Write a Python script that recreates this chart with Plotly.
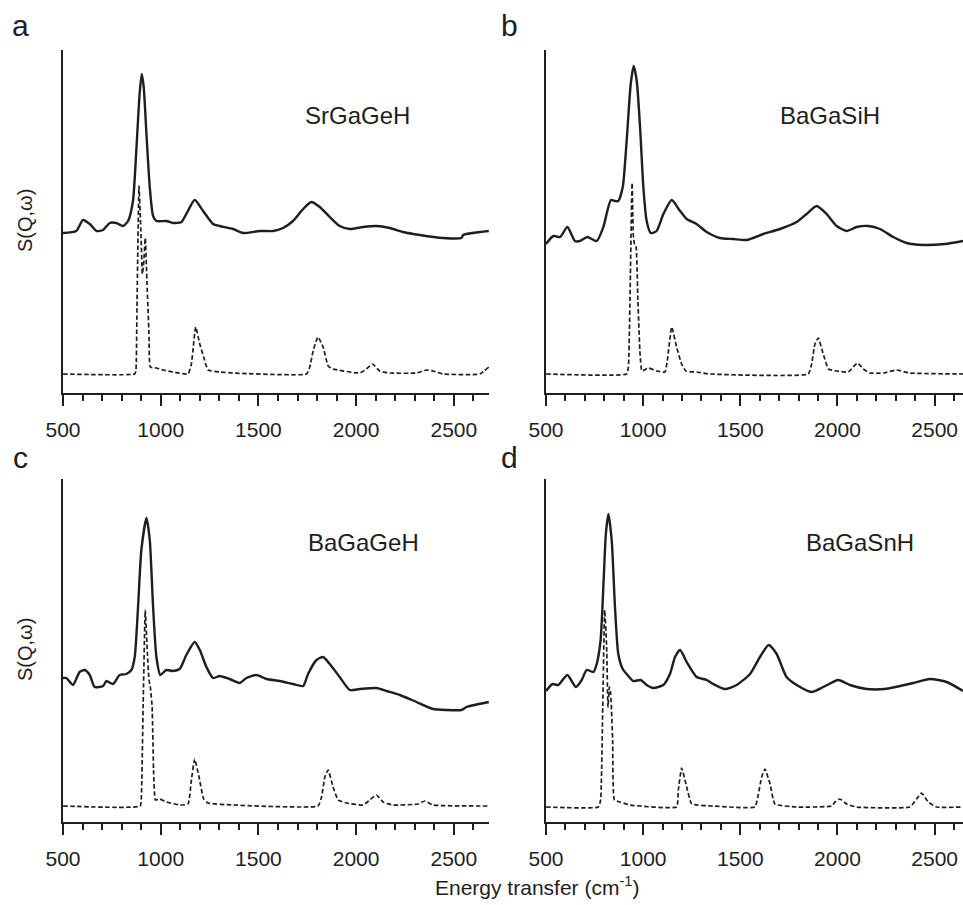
import plotly.graph_objects as go

# ---------------- data (energy transfer in cm^-1, intensity in arbitrary units) ----------------
# Panel a: SrGaGeH
a_exp_x = [500, 568, 602, 637, 671, 705, 739, 773, 807, 833, 858, 875, 892, 903, 913, 927, 944, 961, 978,
           1029, 1063, 1106, 1131, 1174, 1217, 1268, 1302, 1370, 1422, 1507, 1575, 1626, 1677, 1729, 1771,
           1814, 1865, 1916, 1968, 2036, 2104, 2172, 2241, 2326, 2445, 2539, 2548, 2679]
a_exp_y = [160, 162, 173, 169, 162, 163, 170, 170, 167, 172, 192, 242, 299, 319, 306, 259, 206, 177, 172,
           172, 170, 171, 179, 193, 182, 169, 167, 164, 160, 162, 162, 165, 172, 184, 191,
           186, 176, 167, 164, 166, 167, 165, 161, 158, 155, 155, 158, 162]
a_calc_x = [500, 867, 873, 879, 889, 899, 906, 913, 921, 930, 940, 947, 978, 1012, 1063, 1140, 1157, 1179,
            1200, 1220, 1242, 1302, 1370, 1746, 1763, 1780, 1805, 1831, 1857, 1882, 2019, 2053, 2084, 2121,
            2172, 2309, 2360, 2394, 2445, 2633, 2679]
a_calc_y = [19, 19, 22, 92, 207, 159, 119, 130, 155, 109, 59, 26, 25, 23, 21, 19, 29, 66,
            49, 36, 23, 21, 20, 19, 26, 42, 56, 46, 27, 24, 20, 24, 29, 22,
            20, 20, 23, 22, 19, 19, 26]

# Panel b: BaGaSiH
b_exp_x = [500, 538, 572, 610, 649, 675, 713, 761, 795, 834, 855, 872, 895, 915, 936, 951, 967, 984, 1001,
           1018, 1039, 1069, 1104, 1147, 1190, 1224, 1275, 1327, 1395, 1464, 1533, 1618, 1704, 1790, 1841,
           1893, 1944, 1996, 2047, 2099, 2159, 2219, 2287, 2356, 2442, 2553, 2646]
b_exp_y = [149, 157, 156, 166, 152, 152, 156, 152, 166, 193, 192, 192, 206, 252, 309, 327, 312, 266, 206,
           172, 160, 162, 179, 193, 182, 174, 169, 161, 155, 154, 153, 159, 164, 171, 179,
           187, 179, 167, 162, 166, 167, 164, 156, 150, 148, 149, 152]
b_calc_x = [500, 915, 924, 932, 943, 949, 955, 963, 973, 984, 994, 1027, 1069, 1112, 1124, 1147, 1172, 1198,
            1220, 1275, 1344, 1850, 1867, 1884, 1901, 1927, 1953, 1996, 2056, 2081, 2104, 2133, 2167, 2236,
            2304, 2373, 2646]
b_calc_y = [19, 19, 26, 92, 210, 159, 149, 147, 92, 39, 22, 25, 22, 21, 32, 66, 46, 29,
            22, 21, 19, 19, 29, 49, 55, 39, 24, 22, 21, 26, 30, 24, 20, 20,
            23, 20, 19]

# Panel c: BaGaGeH
c_exp_x = [500, 517, 551, 585, 611, 637, 662, 705, 722, 756, 790, 824, 850, 867, 884, 901, 927, 944, 961,
           978, 998, 1029, 1063, 1097, 1131, 1174, 1200, 1234, 1268, 1302, 1353, 1404, 1439, 1490, 1541,
           1609, 1677, 1729, 1754, 1797, 1831, 1865, 1916, 1968, 2019, 2104, 2155, 2224, 2309, 2394, 2462,
           2539, 2565, 2679]
c_exp_y = [144, 144, 137, 150, 152, 147, 135, 136, 141, 138, 147, 148, 152, 165, 215, 272, 304, 282, 215,
           165, 147, 152, 151, 153, 167, 180, 172, 155, 144, 146, 143, 139, 144, 147, 143,
           141, 138, 136, 148, 162, 165, 158, 145, 132, 133, 134, 131, 127, 120, 113, 112,
           112, 115, 120]
c_calc_x = [500, 895, 901, 910, 921, 932, 940, 947, 956, 964, 973, 995, 1029, 1097, 1140, 1157, 1174, 1196,
            1220, 1242, 1370, 1805, 1823, 1840, 1857, 1882, 1908, 1951, 2036, 2070, 2104, 2138, 2189, 2317,
            2352, 2394, 2679]
c_calc_y = [16, 16, 25, 115, 212, 168, 142, 135, 115, 48, 22, 23, 20, 17, 18, 42, 63, 45,
            23, 19, 17, 16, 25, 45, 52, 35, 22, 19, 17, 22, 27, 20, 17, 18,
            21, 17, 16]

# Panel d: BaGaSnH
d_exp_x = [500, 534, 563, 610, 654, 684, 709, 744, 761, 781, 798, 808, 821, 838, 855, 872, 895, 915, 949,
           987, 1018, 1052, 1104, 1138, 1164, 1190, 1224, 1275, 1327, 1361, 1421, 1481, 1550, 1601, 1646,
           1687, 1738, 1790, 1867, 1927, 2004, 2064, 2150, 2244, 2322, 2390, 2476, 2562, 2646]
d_exp_y = [131, 138, 137, 147, 135, 142, 152, 150, 158, 182, 248, 288, 308, 282, 215, 168, 153, 148, 141,
           142, 137, 134, 137, 148, 165, 172, 160, 145, 142, 138, 133, 137, 148, 165, 177,
           168, 145, 137, 130, 135, 142, 137, 133, 133, 136, 139, 143, 140, 131]
d_calc_x = [500, 769, 781, 792, 802, 812, 819, 826, 833, 843, 852, 881, 932, 1172, 1181, 1198, 1224, 1250,
            1361, 1575, 1593, 1610, 1627, 1653, 1678, 1790, 1970, 1987, 2013, 2047, 2098, 2373, 2407, 2433,
            2467, 2510, 2646]
d_calc_y = [15, 15, 22, 115, 212, 175, 115, 135, 128, 82, 22, 20, 17, 15, 32, 54, 35, 18,
            16, 15, 28, 45, 53, 38, 18, 15, 16, 20, 23, 18, 15, 15, 23, 29,
            20, 15, 15]

compounds = ["SrGaGeH", "BaGaSiH", "BaGaGeH", "BaGaSnH"]
panel_letters = ["a", "b", "c", "d"]
x_ticks = [500, 1000, 1500, 2000, 2500]

# ---------------- layout geometry ----------------
W, H = 963, 905
FONT = "Arial, Liberation Sans, Helvetica, sans-serif"
INK = "#1e1e1e"

panels = [
    dict(px=(63, 489), py=(50, 393), xr=[500, 2680], exp=(a_exp_x, a_exp_y), calc=(a_calc_x, a_calc_y)),
    dict(px=(546, 963), py=(50, 393), xr=[500, 2646], exp=(b_exp_x, b_exp_y), calc=(b_calc_x, b_calc_y)),
    dict(px=(63, 489), py=(479, 822), xr=[500, 2680], exp=(c_exp_x, c_exp_y), calc=(c_calc_x, c_calc_y)),
    dict(px=(546, 963), py=(479, 822), xr=[500, 2646], exp=(d_exp_x, d_exp_y), calc=(d_calc_x, d_calc_y)),
]

fig = go.Figure()
layout = dict(
    width=W, height=H,
    margin=dict(l=0, r=0, t=0, b=0, pad=0, autoexpand=False),
    paper_bgcolor="white", plot_bgcolor="white",
    showlegend=False,
    font=dict(family=FONT, color=INK),
)

for i, p in enumerate(panels):
    n = "" if i == 0 else str(i + 1)
    xa, ya = "x" + n, "y" + n
    fig.add_trace(go.Scatter(x=p["exp"][0], y=p["exp"][1], mode="lines",
                             line=dict(color=INK, width=2.4, shape="spline", smoothing=0.6),
                             xaxis=xa, yaxis=ya, hoverinfo="skip"))
    fig.add_trace(go.Scatter(x=p["calc"][0], y=p["calc"][1], mode="lines",
                             line=dict(color=INK, width=1.7, dash="4.5px,2.5px", shape="spline", smoothing=0.4),
                             xaxis=xa, yaxis=ya, hoverinfo="skip"))
    layout["xaxis" + n] = dict(
        domain=[p["px"][0] / W, p["px"][1] / W], range=p["xr"], anchor=ya, automargin=False,
        showline=True, linecolor=INK, linewidth=2, showgrid=False, zeroline=False,
        ticks="outside", ticklen=11, tickwidth=1.8, tickcolor=INK,
        tickvals=x_ticks, ticklabelstandoff=6,
        minor=dict(dtick=100, tick0=500, ticks="outside", ticklen=6, tickwidth=1.5, tickcolor=INK),
        tickfont=dict(size=21, family=FONT, color=INK),
    )
    layout["yaxis" + n] = dict(
        domain=[1 - p["py"][1] / H, 1 - p["py"][0] / H], range=[0, 343], anchor=xa, automargin=False,
        showline=True, linecolor=INK, linewidth=2, showgrid=False, zeroline=False,
        showticklabels=False, ticks="",
    )

ann = []
letter_pos = [(20, 26), (510, 25), (20, 457), (510, 457)]
label_pos = [(357, 115), (830, 115), (363, 542), (860, 542)]
for i in range(4):
    ann.append(dict(text=panel_letters[i], x=letter_pos[i][0] / W, y=1 - letter_pos[i][1] / H,
                    xref="paper", yref="paper", xanchor="center", yanchor="middle", showarrow=False,
                    font=dict(size=30, family=FONT, color=INK)))
    ann.append(dict(text=compounds[i], x=label_pos[i][0] / W, y=1 - label_pos[i][1] / H,
                    xref="paper", yref="paper", xanchor="center", yanchor="middle", showarrow=False,
                    font=dict(size=24, family=FONT, color=INK)))
for yc in (221, 650):
    ann.append(dict(text="S(Q,ω)", x=25 / W, y=1 - yc / H, xref="paper", yref="paper",
                    xanchor="center", yanchor="middle", textangle=-90, showarrow=False,
                    font=dict(size=20, family=FONT, color=INK)))
ann.append(dict(text="Energy transfer (cm<sup>-1</sup>)", x=537 / W, y=1 - 886 / H,
                xref="paper", yref="paper", xanchor="center", yanchor="middle", showarrow=False,
                font=dict(size=21, family=FONT, color=INK)))
layout["annotations"] = ann

fig.update_layout(**layout)
fig.write_html("out.html")
